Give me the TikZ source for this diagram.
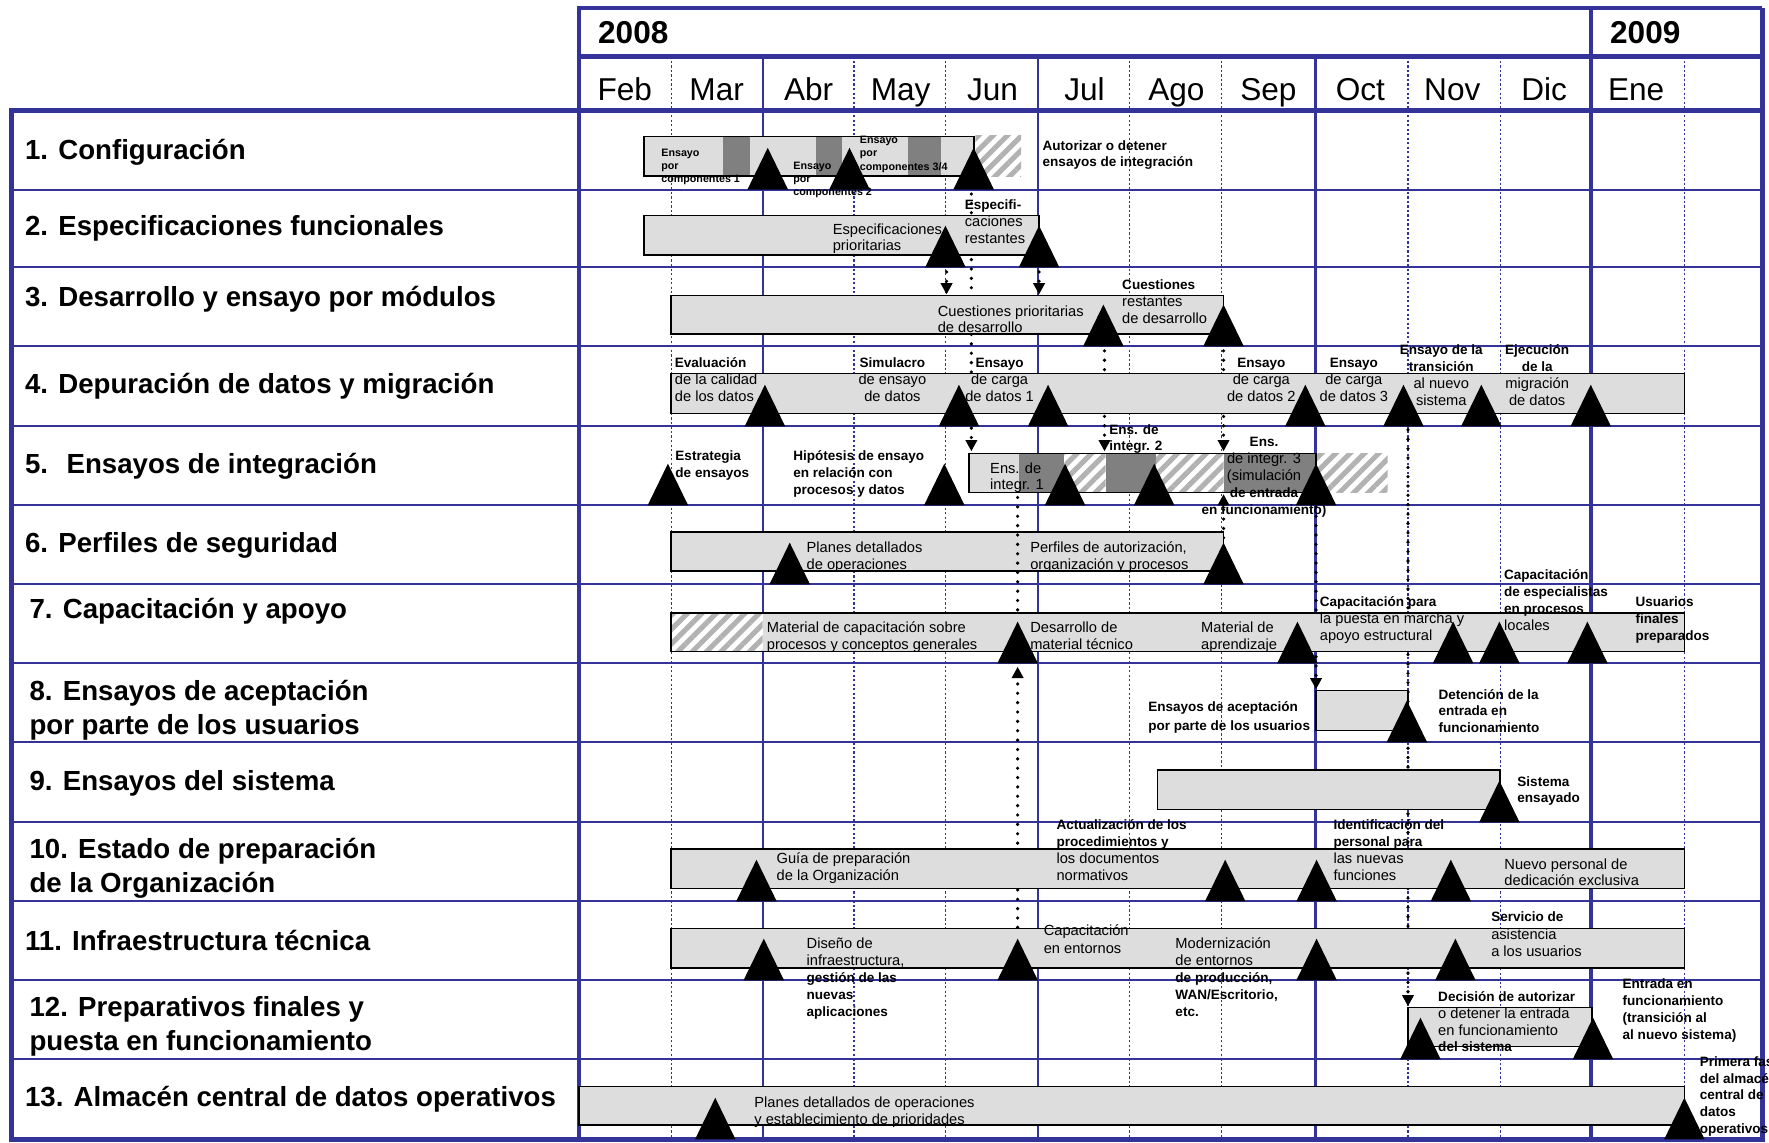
\documentclass[tikz,border=0pt]{standalone}
\usepackage{fontspec}
\setmainfont{Liberation Sans}
\usetikzlibrary{arrows.meta,patterns.meta}
\definecolor{azul}{RGB}{51,51,153}
\definecolor{gris}{RGB}{221,221,221}
\definecolor{oscuro}{RGB}{128,128,128}
\newcommand\negr[1]{{\fontsize{12}{14.8}\selectfont\bfseries #1}}
\tikzset{
  marco/.style={draw=azul, line width=4pt},
  fila/.style={draw=azul, line width=1.8pt},
  mesdiv/.style={draw=azul, line width=1pt, dash pattern=on 2pt off 2pt},
  barra/.style={draw=black, line width=1.6pt, fill=gris},
  rayado/.style={fill=white, postaction={pattern={Lines[angle=45,distance=9pt,line width=4.5pt]}, pattern color=black!30}},
  enlace/.style={line width=3.2pt, line cap=round, dash pattern=on 0pt off 8.3pt},
  flecha/.style={enlace, -{Triangle[width=10pt,length=10pt]}},
  tarea/.style={font=\fontsize{24.5}{30}\selectfont\bfseries, inner sep=0pt, anchor=west, align=left},
  et/.style={font=\fontsize{13}{14.8}\selectfont, inner sep=0pt, align=left, anchor=base west},
  etn/.style={et, font=\fontsize{12}{14.8}\selectfont\bfseries},
  etc/.style={et, align=center, anchor=base},
  etp/.style={font=\fontsize{9.5}{11.7}\selectfont\bfseries, inner sep=0pt, align=left, anchor=base west},
  hito/.pic={\fill (-18,0) -- (0,-37) -- (18,0) -- cycle;}
}
\begin{document}
\begin{tikzpicture}[x=1pt, y=-1pt]
\fill[white] (0,0) rectangle (1568,1013);
\useasboundingbox (0,0) rectangle (1568,1013);

% cuadricula
\foreach \x in {595,757,838,1001,1083,1248,1330,1493}
  \draw[mesdiv] (\x,50) -- (\x,1010);
\foreach \x in {676,920,1166}
  \draw[fila] (\x,50) -- (\x,1010);
\foreach \y in {168,237,307,378,448,518,588,658,729,799,869,939}
  \draw[fila] (10,\y) -- (1562,\y);
\draw[marco] (513,7) -- (1562,7);
\draw[marco] (513,50) -- (1562,50);
\draw[marco] (10,98) -- (1562,98);
\draw[marco] (10,96) -- (10,1010) -- (1562,1010) -- (1562,7);
\draw[marco] (513,5) -- (513,1010);
\draw[marco] (1410,5) -- (1410,1010);

% encabezado
\node[font=\fontsize{28}{30}\selectfont\bfseries, anchor=west, inner sep=0pt] (a2008) at (530,29) {2008};
\node[font=\fontsize{28}{30}\selectfont\bfseries, anchor=west, inner sep=0pt] (a2009) at (1427,29) {2009};
\foreach \m [count=\i] in {Feb,Mar,Abr,May,Jun,Jul,Ago,Sep,Oct,Nov,Dic,Ene}
  \node[font=\fontsize{28}{30}\selectfont, inner sep=0pt, anchor=base] (m\i) at ({513+81.5*(\i-0.5)},89) {\m};

% tareas
\node[tarea] (t1) at (22,135) {1. Configuración};
\node[tarea] (t2) at (22,202) {2. Especificaciones funcionales};
\node[tarea] (t3) at (22,265) {3. Desarrollo y ensayo por módulos};
\node[tarea] (t4) at (22,342) {4. Depuración de datos y migración};
\node[tarea] (t5) at (22,413) {5.\hspace{0.3em} Ensayos de integración};
\node[tarea] (t6) at (22,483) {6. Perfiles de seguridad};
\node[tarea] (t7) at (26,542) {7. Capacitación y apoyo};
\node[tarea] (t8) at (26,629.5) {8. Ensayos de aceptación\\por parte de los usuarios};
\node[tarea] (t9) at (26,694) {9. Ensayos del sistema};
\node[tarea] (t10) at (26,769.5) {10. Estado de preparación\\de la Organización};
\node[tarea] (t11) at (22,834) {11. Infraestructura técnica};
\node[tarea] (t12) at (26,910) {12. Preparativos finales y\\puesta en funcionamiento};
\node[tarea] (t13) at (22,974) {13. Almacén central de datos operativos};

% enlaces (detras de las barras)
\coordinate (c1a) at (861,172);   \coordinate (c1b) at (861,400);
\coordinate (c2a) at (839,241);   \coordinate (c2b) at (839,261);
\coordinate (c3a) at (921,241);   \coordinate (c3b) at (921,261);
\coordinate (c4a) at (979,311);   \coordinate (c4b) at (979,400);
\coordinate (c5a) at (1084.5,311);\coordinate (c5b) at (1084.5,400);
\coordinate (c7a) at (902,822);   \coordinate (c7b) at (902,591);
\coordinate (c8a) at (1166.5,441);\coordinate (c8b) at (1166.5,611);
\coordinate (c9a) at (1248,381);  \coordinate (c9b) at (1248,892);
\coordinate (c10a) at (1084.5,485);\coordinate (c10b) at (1084.5,438);
\draw[flecha] (c1a) -- (c1b);
\draw[flecha] (c2a) -- (c2b);
\draw[flecha] (c3a) -- (c3b);
\draw[flecha] (c4a) -- (c4b);
\draw[flecha] (c5a) -- (c5b);
\draw[flecha] (c7a) -- (c7b);
\draw[flecha] (c8a) -- (c8b);
\draw[flecha] (c9a) -- (c9b);
\draw[flecha] (c10a) -- (c10b);

% barras
\fill[gris] (571,121) rectangle (863,156);
\foreach \a/\b in {641/665,723/746,805/834.5}
  \fill[oscuro] (\a,121) rectangle (\b,156);
\draw[line width=1.6pt] (571,121) rectangle (863,156);
\path[rayado] (864.5,120) rectangle (905,156);
\draw[barra] (571,191) rectangle (921,226);
\draw[barra] (595,262) rectangle (1084.5,296);
\draw[barra] (595,331) rectangle (1493,366.5);
\fill[gris] (859,402) rectangle (903,436.5);
\fill[oscuro] (903,402) rectangle (943.5,436.5);
\path[rayado] (943.5,402) rectangle (980,436.5);
\fill[oscuro] (980,402) rectangle (1024.5,436.5);
\path[rayado] (1024.5,402) rectangle (1084.5,436.5);
\fill[oscuro] (1084.5,402) rectangle (1166.5,436.5);
\draw[line width=1.6pt] (859,402) rectangle (1166.5,436.5);
\path[rayado] (1167.5,402) rectangle (1230,436.5);
\draw[barra] (595,471.5) rectangle (1084.5,506);
\fill[gris] (595,543) rectangle (1493,577.5);
\path[rayado] (595,543) rectangle (676,577.5);
\draw[line width=1.6pt] (595,543) rectangle (1493,577.5);
\draw[barra] (1166.5,612) rectangle (1248,647.5);
\draw[barra] (1026,682.5) rectangle (1329.5,717.5);
\draw[barra] (595,752.5) rectangle (1493,787.5);
\draw[barra] (595,823) rectangle (1493,858);
\draw[barra] (1248,893) rectangle (1411,927.5);
\draw[barra] (513,963) rectangle (1493,997.5);

% enlace visible sobre la barra 6
\coordinate (c6a) at (902,441); \coordinate (c6b) at (902,541);
\draw[enlace] (c6a) -- (c6b);

% hitos
\foreach \x in {680.5,753,863} \pic at (\x,168) {hito};
\foreach \x in {838,921} \pic at (\x,237) {hito};
\foreach \x in {978,1084.5} \pic at (\x,307) {hito};
\foreach \x in {678,850,929,1157,1244,1313,1410} \pic at (\x,378) {hito};
\foreach \x in {592,837,944,1023,1166.5} \pic at (\x,448) {hito};
\foreach \x in {700,1084.5} \pic at (\x,518) {hito};
\foreach \x in {902,1150,1288,1329,1407} \pic at (\x,588) {hito};
\pic at (1247,658) {hito};
\pic at (1329,729) {hito};
\foreach \x in {670.5,1086,1167,1286} \pic at (\x,799) {hito};
\foreach \x in {677,902,1167,1290} \pic at (\x,869) {hito};
\foreach \x in {1259,1412} \pic at (\x,939) {hito};
\foreach \x in {634,1493} \pic at (\x,1010) {hito};

% etiquetas (punto de anclaje en la ultima linea)
\node[etp] (e1a) at (586,162) {Ensayo\\por\\componentes 1};
\node[etp] (e1b) at (703,173.7) {Ensayo\\por\\componentes 2};
\node[etp] (e1c) at (762,150.7) {Ensayo\\por\\componentes 3/4};
\node[etn, font=\fontsize{12}{14.5}\selectfont\bfseries] (e1d) at (924,147.7) {Autorizar o detener\\ensayos de integración};

\node[et, font=\fontsize{13}{13.6}\selectfont] (e2a) at (738,221.6) {Especificaciones\\prioritarias};
\node[et] (e2b) at (855,215.7) {\negr{Especifi-}\\caciones\\restantes};

\node[et] (e3a) at (831,295) {Cuestiones prioritarias\\de desarrollo};
\node[et] (e3b) at (994.5,286.6) {\negr{Cuestiones}\\restantes\\de desarrollo};

\node[et] (e4a) at (598,355.5) {\negr{Evaluación}\\de la calidad\\de los datos};
\node[etc] (e4b) at (791,355.5) {\negr{Simulacro}\\de ensayo\\de datos};
\node[etc] (e4c) at (886,355.5) {\negr{Ensayo}\\de carga\\de datos 1};
\node[etc] (e4d) at (1118,355.5) {\negr{Ensayo}\\de carga\\de datos 2};
\node[etc] (e4e) at (1200,355.5) {\negr{Ensayo}\\de carga\\de datos 3};
\node[etc] (e4f) at (1277.5,359) {\negr{Ensayo de la}\\\negr{transición}\\al nuevo\\sistema};
\node[etc] (e4g) at (1362.5,359) {\negr{Ejecución}\\\negr{de la}\\migración\\de datos};

\node[etn, font=\fontsize{12}{15}\selectfont\bfseries] (e5a) at (598.5,423.4) {Estrategia\\de ensayos};
\node[etn, font=\fontsize{12}{15}\selectfont\bfseries] (e5b) at (703,438.5) {Hipótesis de ensayo\\en relación con\\procesos y datos};
\node[et] (e5c) at (877.5,434.3) {Ens. de\\integr. 1};
\node[etn] (e5d) at (983,399.5) {Ens. de\\integr. 2};
\node[etc, font=\fontsize{13}{15}\selectfont] (e5e) at (1120.4,456) {\negr{Ens.}\\de integr. 3\\(simulación\\\negr{de entrada}\\\negr{en funcionamiento)}};

\node[et] (e6a) at (714.8,504.6) {Planes detallados\\de operaciones};
\node[et] (e6b) at (913,504.6) {Perfiles de autorización,\\organización y procesos};

\node[et] (e7a) at (679.6,575.5) {Material de capacitación sobre\\procesos y conceptos generales};
\node[et] (e7b) at (913,575.5) {Desarrollo de\\material técnico};
\node[et] (e7c) at (1064.5,575.5) {Material de\\aprendizaje};
\node[et] (e7d) at (1169.7,567.3) {\negr{Capacitación para}\\la puesta en marcha y\\apoyo estructural};
\node[et, font=\fontsize{13}{15.2}\selectfont] (e7e) at (1333,559) {\negr{Capacitación}\\\negr{de especialistas}\\\negr{en procesos}\\locales};
\node[etn] (e7f) at (1449.6,567.3) {Usuarios\\finales\\preparados};

\node[etn, font=\fontsize{12}{16.9}\selectfont\bfseries] (e8a) at (1017.6,647.7) {Ensayos de aceptación\\por parte de los usuarios};
\node[etn] (e8b) at (1274.9,649.4) {Detención de la\\entrada en\\funcionamiento};

\node[etn] (e9a) at (1344.8,711.5) {Sistema\\ensayado};

\node[et] (e10a) at (688.2,780) {Guía de preparación\\de la Organización};
\node[et] (e10b) at (936.3,780) {\negr{Actualización de los}\\\negr{procedimientos y}\\los documentos\\normativos};
\node[et] (e10c) at (1181.8,780) {\negr{Identificación del}\\\negr{personal para}\\las nuevas\\funciones};
\node[et] (e10d) at (1333.3,785.3) {Nuevo personal de\\dedicación exclusiva};

\node[et, font=\fontsize{13}{15}\selectfont] (e11a) at (714.8,900.6) {Diseño de\\infraestructura,\\\negr{gestión de las}\\\negr{nuevas}\\\negr{aplicaciones}};
\node[et, font=\fontsize{13}{16}\selectfont] (e11b) at (925,845) {Capacitación\\en entornos};
\node[et, font=\fontsize{13}{15}\selectfont] (e11c) at (1041.7,900.6) {Modernización\\de entornos\\\negr{de producción,}\\\negr{WAN/Escritorio,}\\\negr{etc.}};
\node[et, font=\fontsize{13}{15.5}\selectfont] (e11d) at (1321.6,848) {\negr{Servicio de}\\asistencia\\a los usuarios};

\node[et] (e12a) at (1274.6,932.2) {\negr{Decisión de autorizar}\\o detener la entrada\\en funcionamiento\\\negr{del sistema}};
\node[etn, font=\fontsize{12}{15}\selectfont\bfseries] (e12b) at (1438.1,921.2) {Entrada en\\funcionamiento\\(transición al\\al nuevo sistema)};

\node[et] (e13a) at (668.5,996.3) {Planes detallados de operaciones\\y establecimiento de prioridades};
\node[etn] (e13b) at (1506.4,1004.5) {Primera fase\\del almacén\\central de\\datos\\operativos};
\end{tikzpicture}
\end{document}
